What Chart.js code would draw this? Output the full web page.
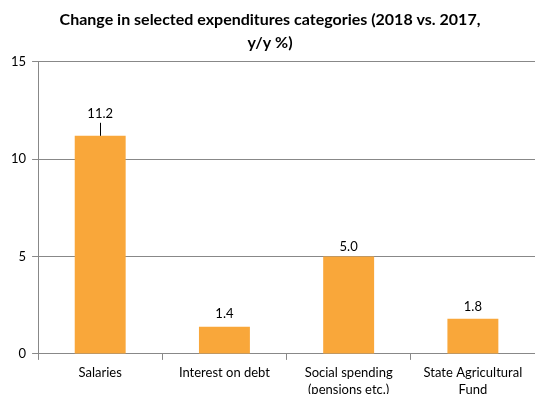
<!DOCTYPE html>
<html>
<head>
<meta charset="utf-8">
<script src="https://cdn.jsdelivr.net/npm/chart.js@4"></script>
<style>
  html, body { margin: 0; padding: 0; background: #fff; overflow: hidden; }
  #wrap { width: 535px; height: 403px; }
</style>
</head>
<body>
<div id="wrap"><canvas id="chart"></canvas></div>
<script>
const categories = [['Salaries'], ['Interest on debt'], ['Social spending', '(pensions etc.)'], ['State Agricultural', 'Fund']];
const changeValues = [11.2, 1.4, 5.0, 1.8];
const titleLines = ['Change in selected expenditures categories (2018 vs. 2017,', 'y/y %)'];

// labels sit above the bars; the first one was pulled up with a leader line
const labelOffsets = [22, 13, 10, 12];

const barLabels = {
  id: 'barLabels',
  afterDatasetsDraw(chart) {
    const ctx = chart.ctx;
    const meta = chart.getDatasetMeta(0);
    ctx.save();
    ctx.font = '13px Lato';
    ctx.fillStyle = '#000';
    ctx.textAlign = 'center';
    ctx.textBaseline = 'middle';
    meta.data.forEach((bar, i) => {
      const off = labelOffsets[i];
      ctx.fillText(changeValues[i].toFixed(1), bar.x, bar.y - off);
      if (off > 15) {
        ctx.strokeStyle = '#000';
        ctx.lineWidth = 1;
        ctx.beginPath();
        ctx.moveTo(Math.round(bar.x) + 0.5, bar.y - off + 9);
        ctx.lineTo(Math.round(bar.x) + 0.5, bar.y);
        ctx.stroke();
      }
    });
    ctx.restore();
  }
};

new Chart(document.getElementById('chart').getContext('2d'), {
  type: 'bar',
  data: {
    labels: categories,
    datasets: [{
      data: changeValues,
      backgroundColor: '#F9A73A',
      borderWidth: 0,
      barPercentage: 0.41,
      categoryPercentage: 1
    }]
  },
  options: {
    responsive: true,
    maintainAspectRatio: false,
    animation: false,
    layout: { padding: { left: 5, right: 0, top: 5, bottom: 0 } },
    plugins: {
      legend: { display: false },
      tooltip: { enabled: false },
      title: {
        display: true,
        text: titleLines,
        color: '#000',
        font: { family: 'Lato', size: 16, weight: 'bold', lineHeight: 1.4 },
        padding: { top: 4, bottom: 8 }
      }
    },
    scales: {
      x: {
        grid: { display: true, drawOnChartArea: false, offset: true, tickLength: 6, color: '#888' },
        border: { color: '#888' },
        ticks: { color: '#000', font: { family: 'Lato', size: 13, lineHeight: 1.35 }, maxRotation: 0, padding: 4 }
      },
      y: {
        min: 0,
        max: 15,
        ticks: { stepSize: 5, color: '#000', font: { family: 'Lato', size: 13 }, padding: 6 },
        grid: { color: '#888', tickLength: 6 },
        border: { color: '#888' }
      }
    }
  },
  plugins: [barLabels]
});
</script>
</body>
</html>
